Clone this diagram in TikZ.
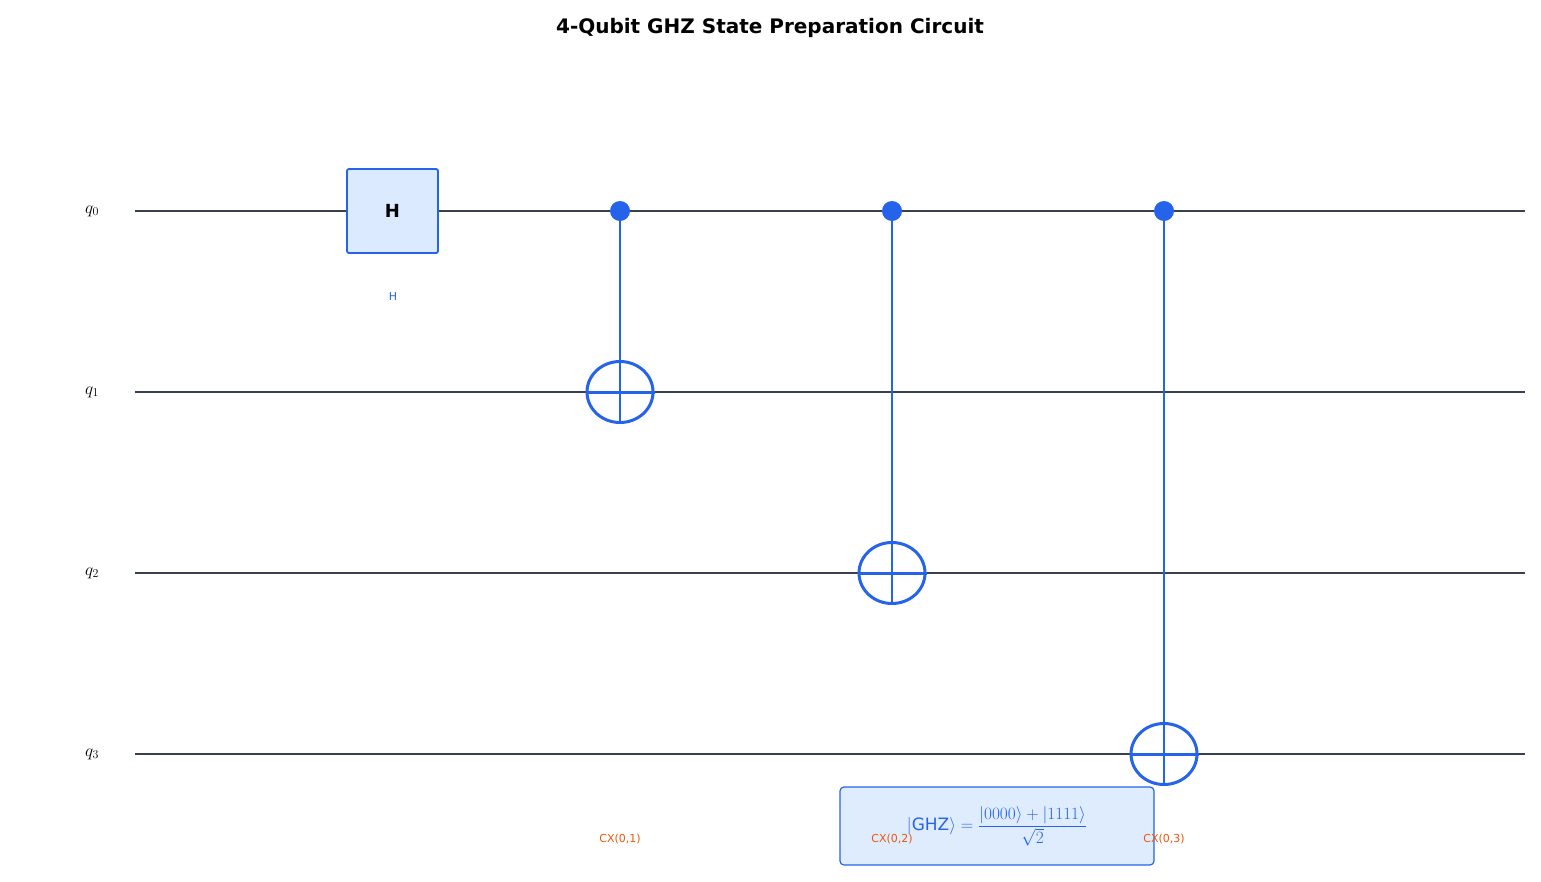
\documentclass[tikz,border=0pt]{standalone}
\usepackage{fontspec}
\setmainfont{DejaVu Sans}
\usetikzlibrary{shapes.geometric}
\definecolor{wire}{HTML}{374151}
\definecolor{qblue}{HTML}{2563EB}
\definecolor{qfill}{HTML}{DBEAFE}
\definecolor{qorange}{HTML}{EA580C}
\tikzset{
  wireline/.style={draw=wire,line width=2.2pt},
  ctrl/.style={circle,fill=qblue,inner sep=0pt,minimum size=20pt},
  targ/.style={ellipse,draw=qblue,line width=3pt,minimum width=66pt,minimum height=61pt,inner sep=0pt},
  gatelbl/.style={text=qorange,font=\fontsize{11}{13}\selectfont},
  qlbl/.style={font=\fontsize{17}{20}\selectfont},
}
\begin{document}
\begin{tikzpicture}[x=1pt,y=-1pt]
\useasboundingbox (0,0) rectangle (1541,881);
\node[font=\bfseries\fontsize{20}{24}\selectfont] (title) at (770,28) {4-Qubit GHZ State Preparation Circuit};
\foreach \i/\y in {0/211,1/392,2/573,3/754}{
  \coordinate (w\i s) at (135,\y);
  \coordinate (w\i e) at (1525,\y);
  \draw[wireline] (w\i s) -- (w\i e);
  \node[qlbl] (q\i) at (92,\y) {$q_{\i}$};
}
\node[draw=qblue,fill=qfill,line width=1.8pt,rounded corners=2pt,minimum width=91pt,minimum height=84pt,font=\bfseries\fontsize{18}{20}\selectfont] (H) at (392.5,211) {H};
\node[text=qblue,font=\fontsize{11}{13}\selectfont] (Hl) at (393,296) {H};
\foreach \x/\y/\n in {620/392/a,892/573/b,1164/754/c}{
  \node[ctrl] (c\n) at (\x,211) {};
  \node[targ] (t\n) at (\x,\y) {};
  \draw[qblue,line width=2.2pt] (c\n.center) -- (t\n.south);
  \draw[qblue,line width=3pt] (t\n.west) -- (t\n.east);
}
\node[draw=qblue,fill=qfill,fill opacity=0.9,text opacity=1,line width=1.2pt,rounded corners=4pt,minimum width=314pt,minimum height=78pt,text=qblue,font=\fontsize{17}{20}\selectfont] (ghz) at (997,826) {$\displaystyle |\mathrm{GHZ}\rangle = \frac{|0000\rangle + |1111\rangle}{\sqrt{2}}$};
\node[gatelbl] (la) at (620,839) {CX(0,1)};
\node[gatelbl] (lb) at (892,839) {CX(0,2)};
\node[gatelbl] (lc) at (1164,839) {CX(0,3)};
\end{tikzpicture}
\end{document}
